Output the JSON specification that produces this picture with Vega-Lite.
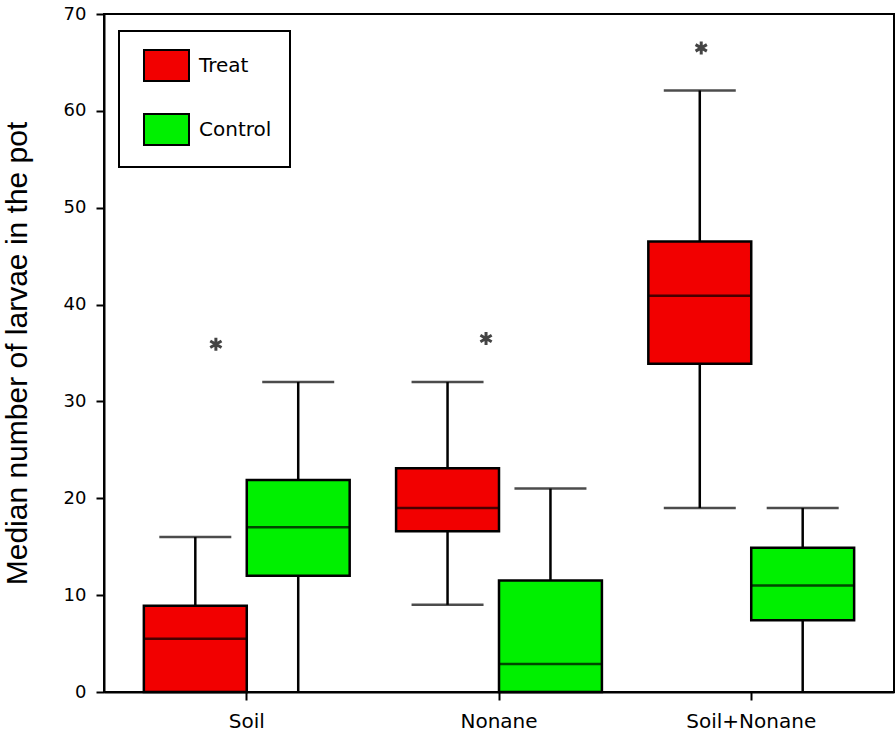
{
  "$schema": "https://vega.github.io/schema/vega-lite/v6.json",
  "width": 790,
  "height": 678,
  "autosize": "none",
  "padding": {"left": 104, "top": 14, "right": 2, "bottom": 43},
  "background": "white",
  "config": {
    "view": {"stroke": "black", "strokeWidth": 2},
    "axis": {"grid": false, "domainColor": "black", "domainWidth": 2, "tickColor": "black", "tickWidth": 2, "tickSize": 8, "labelColor": "black", "titleColor": "black"},
    "legend": {"strokeColor": "black", "padding": 18}
  },
  "datasets": {
    "boxes": [
      {"cat": "Soil", "grp": "Treat", "lo": 0, "q1": 0, "med": 5.5, "q3": 8.9, "hi": 16},
      {"cat": "Soil", "grp": "Control", "lo": 0, "q1": 12, "med": 17, "q3": 21.9, "hi": 32},
      {"cat": "Nonane", "grp": "Treat", "lo": 9, "q1": 16.6, "med": 19, "q3": 23.1, "hi": 32},
      {"cat": "Nonane", "grp": "Control", "lo": 0, "q1": 0, "med": 2.9, "q3": 11.5, "hi": 21},
      {"cat": "Soil+Nonane", "grp": "Treat", "lo": 19, "q1": 33.9, "med": 40.9, "q3": 46.5, "hi": 62.1},
      {"cat": "Soil+Nonane", "grp": "Control", "lo": 0, "q1": 7.4, "med": 11, "q3": 14.9, "hi": 19}
    ],
    "stars": [
      {"cat": "Soil", "off": 0.35, "v": 35.9},
      {"cat": "Nonane", "off": 0.437, "v": 36.5},
      {"cat": "Soil+Nonane", "off": 0.257, "v": 66.5}
    ]
  },
  "encoding": {
    "x": {
      "field": "cat", "type": "nominal", "sort": ["Soil", "Nonane", "Soil+Nonane"],
      "scale": {"paddingInner": 0.184, "paddingOuter": 0.158},
      "axis": {"title": null, "labelAngle": 0, "labelFont": "DejaVu Sans", "labelFontSize": 20, "labelPadding": 11}
    }
  },
  "layer": [
    {
      "data": {"name": "boxes"},
      "mark": {"type": "rule", "color": "black", "strokeWidth": 2.5},
      "encoding": {
        "xOffset": {"field": "grp", "type": "nominal", "scale": {"domain": ["Treat", "Control"], "paddingInner": 0, "paddingOuter": 0}},
        "y": {
          "field": "lo", "type": "quantitative",
          "scale": {"domain": [0, 70], "nice": false},
          "axis": {"values": [0, 10, 20, 30, 40, 50, 60, 70], "title": "Median number of larvae in the pot", "titleFont": "Liberation Sans", "titleFontSize": 30, "titleFontWeight": "normal", "titlePadding": 31, "labelFont": "DejaVu Sans", "labelFontSize": 18, "labelPadding": 10}
        },
        "y2": {"field": "hi"}
      }
    },
    {
      "data": {"name": "boxes"},
      "mark": {"type": "bar", "stroke": "black", "strokeWidth": 2.5},
      "encoding": {
        "xOffset": {"field": "grp", "type": "nominal", "scale": {"domain": ["Treat", "Control"], "paddingInner": 0, "paddingOuter": 0}},
        "y": {"field": "q1", "type": "quantitative"},
        "y2": {"field": "q3"},
        "color": {
          "field": "grp", "type": "nominal",
          "scale": {"domain": ["Treat", "Control"], "range": ["#f20000", "#00f000"]},
          "legend": {
            "title": null, "orient": "none", "legendX": 15, "legendY": 17,
            "symbolType": "M-0.613,-1H2.29V1H-0.613Z", "symbolSize": 961,
            "symbolStrokeColor": "black", "symbolStrokeWidth": 2, "symbolOpacity": 1,
            "labelFont": "DejaVu Sans", "labelFontSize": 20, "labelColor": "black", "labelOffset": 29,
            "rowPadding": 25,
            "encode": {"legend": {"update": {"strokeWidth": {"value": 2}}}}
          }
        }
      }
    },
    {
      "data": {"name": "boxes"},
      "mark": {"type": "tick", "color": "black", "thickness": 2.5, "size": 103},
      "encoding": {
        "xOffset": {"field": "grp", "type": "nominal", "scale": {"domain": ["Treat", "Control"], "paddingInner": 0, "paddingOuter": 0}},
        "y": {"field": "med", "type": "quantitative"}
      }
    },
    {
      "data": {"name": "boxes"},
      "mark": {"type": "tick", "color": "black", "thickness": 2.5, "size": 72},
      "encoding": {
        "xOffset": {"field": "grp", "type": "nominal", "scale": {"domain": ["Treat", "Control"], "paddingInner": 0, "paddingOuter": 0}},
        "y": {"field": "hi", "type": "quantitative"}
      }
    },
    {
      "data": {"name": "boxes"},
      "transform": [{"filter": "datum.lo > 0"}],
      "mark": {"type": "tick", "color": "black", "thickness": 2.5, "size": 72},
      "encoding": {
        "xOffset": {"field": "grp", "type": "nominal", "scale": {"domain": ["Treat", "Control"], "paddingInner": 0, "paddingOuter": 0}},
        "y": {"field": "lo", "type": "quantitative"}
      }
    },
    {
      "data": {"name": "stars"},
      "mark": {"type": "point", "shape": "M0,-1V1M-0.866,-0.5L0.866,0.5M-0.866,0.5L0.866,-0.5", "filled": false, "stroke": "#444444", "strokeWidth": 3, "size": 170, "opacity": 1},
      "encoding": {
        "xOffset": {"field": "off", "type": "quantitative", "scale": {"domain": [0, 1]}},
        "y": {"field": "v", "type": "quantitative"}
      }
    }
  ],
  "resolve": {"scale": {"xOffset": "independent"}}
}
